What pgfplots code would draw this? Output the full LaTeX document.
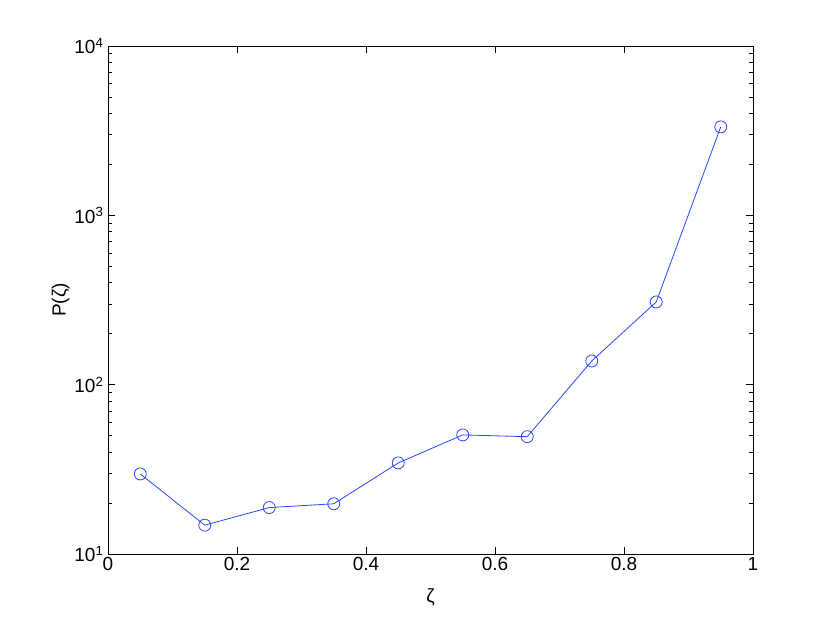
\documentclass[border=0pt]{standalone}
\usepackage{fontspec}
\setmainfont{Liberation Sans}
\usepackage{pgfplots}
\pgfplotsset{compat=1.18}

\definecolor{mblue}{RGB}{40,70,250}

\begin{document}
\begin{tikzpicture}[x=1pt,y=1pt]
\path[use as bounding box] (-108,-70) rectangle (722,554);
\begin{axis}[
  at={(0,0)}, anchor=south west,
  scale only axis, width=645pt, height=508pt,
  ymode=log, xmin=0, xmax=1, ymin=10, ymax=10000,
  xtick={0,0.2,0.4,0.6,0.8,1},
  xticklabels={0,0.2,0.4,0.6,0.8,1},
  ytick={10,100,1000,10000},
  yticklabels={10\textsuperscript{1},10\textsuperscript{2},10\textsuperscript{3},10\textsuperscript{4}},
  tick align=inside, tick pos=both,
  major tick length=7pt, minor tick length=4pt,
  minor x tick num=0,
  tick style={black, line width=0.6pt},
  axis line style={black, line width=0.7pt},
  tick label style={font=\fontsize{19}{21}\selectfont},
  label style={font=\fontsize{19}{21}\selectfont},
  xlabel={ζ}, ylabel={P(ζ)},
  xlabel style={yshift=-11pt},
  ylabel style={yshift=-2pt},
  yticklabel style={xshift=-1pt},
]
\addplot[mblue, line width=0.8pt, mark=o, mark size=6pt, mark options={line width=0.8pt}] coordinates {
  (0.05,29.7) (0.15,14.8) (0.25,18.8) (0.35,19.8) (0.45,34.5)
  (0.55,50.5) (0.65,49.3) (0.75,138) (0.85,308) (0.95,3330)
};
\end{axis}
\end{tikzpicture}
\end{document}
